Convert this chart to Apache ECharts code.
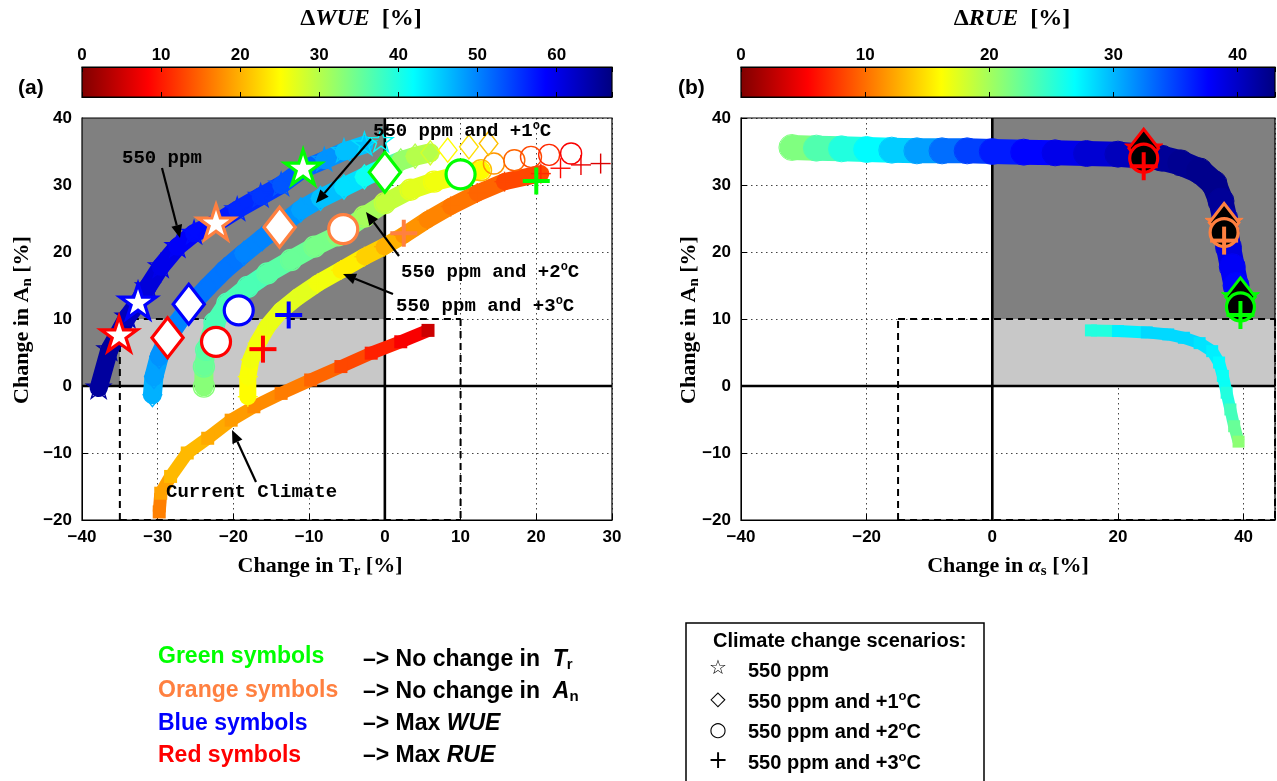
<!DOCTYPE html>
<html>
<head>
<meta charset="utf-8">
<script src="https://cdn.jsdelivr.net/npm/echarts@6/dist/echarts.min.js"></script>
<style>
html,body{margin:0;padding:0;background:#ffffff;}
#chart{width:1277px;height:781px;}
</style>
</head>
<body>
<div id="chart"></div>
<script>
// ===================== DATA =====================
// Panel (a): [change in Tr (%), change in An (%), ΔWUE (%)]
const curve550ppm = [
  [-37.8,-0.3,65],[-36.4,5.4,65],[-35.3,7.6,64],[-34.0,10.3,63],[-32.7,12.3,62],[-31.3,14.8,61],
  [-29.6,17.8,60],[-27.4,20.8,59],[-25.2,22.8,58],[-22.3,24.3,57],[-19.5,26.3,56],[-16.4,28.3,55],
  [-13.7,30.0,53],[-10.9,32.3,52],[-8.0,33.7,49],[-5.4,35.0,46],[-2.7,36.0,44],[-0.5,36.5,42]
];
const curve550ppm1C = [
  [-30.7,-1.3,47],[-30.5,1.4,48],[-29.8,4.4,49],[-28.7,7.1,50],[-27.4,9.4,50],[-25.6,12.1,51],
  [-23.4,14.8,51],[-21.2,17.3,51],[-18.6,19.8,50],[-16.2,22.0,50],[-13.7,24.0,49],[-11.1,26.3,48],
  [-8.5,28.0,46],[-5.4,29.7,44],[-2.7,31.2,41],[-0.3,32.5,36],[2.1,33.6,32],[4.0,34.3,30],
  [6.0,34.8,28],[8.3,35.2,25],[11.1,35.7,23],[13.7,36.2,21]
];
const curve550ppm2C = [
  [-23.9,-0.1,33],[-23.9,2.9,35],[-23.6,5.4,36],[-22.5,9.4,37],[-20.8,12.3,37],[-18.1,14.8,37],
  [-15.5,16.8,36],[-12.4,18.8,35],[-9.3,20.8,34],[-6.2,22.5,33],[-2.7,25.3,31],[0.0,27.3,29],
  [3.4,29.3,27],[6.5,30.5,26],[10.0,31.5,25],[12.7,32.2,21],[14.4,33.2,18],[17.1,33.7,15],
  [19.3,34.2,13],[21.7,34.5,11],[24.6,34.7,8]
];
const curve550ppm3C = [
  [-18.1,-1.6,25],[-18.1,1.4,25.5],[-17.7,3.9,26],[-16.8,6.4,26],[-15.5,8.9,26.5],[-13.7,11.3,27],
  [-11.5,13.3,27],[-8.9,15.3,26],[-5.8,17.3,24],[-2.7,19.3,22],[-0.1,20.8,20],[2.5,22.5,18],
  [5.6,24.8,17],[8.7,26.8,16],[12.2,28.8,15],[15.8,30.5,13],[20.6,31.7,11],[23.2,32.5,9],
  [25.9,33.0,7],[28.5,33.2,6]
];
const curveCurrentClimate = [
  [-29.8,-18.8,16.7],[-29.6,-16.0,19],[-28.3,-13.5,20.5],[-26.1,-10.0,20.5],[-23.4,-7.8,19.5],
  [-20.3,-5.1,18.5],[-17.3,-3.1,17.5],[-13.7,-1.1,16.5],[-9.8,0.9,15],[-5.8,2.9,13],
  [-1.8,4.9,10.5],[2.1,6.6,8],[5.7,8.3,5]
];
// Highlighted symbols (a); order: Max RUE, Max WUE, No change in An, No change in Tr
const starMarksA    = [[-35.1,7.5],[-32.6,12.4],[-22.3,24.2],[-10.8,32.4]];
const diamondMarksA = [[-28.7,7.2],[-25.9,12.2],[-13.9,23.7],[0.0,31.9]];
const circleMarksA  = [[-22.3,6.6],[-19.3,11.3],[-5.5,23.4],[10.0,31.6]];
const plusMarksA    = [[-16.1,5.5],[-12.7,10.6],[2.5,22.8],[20.0,30.6]];

// Panel (b): [change in αs (%), change in An (%), ΔRUE (%)]
const rueScenarios = [
  [-31.9,35.6,21.5],[-28,35.5,23.5],[-24,35.4,25.5],[-20,35.3,27],[-16,35.2,29],[-12,35.1,31],
  [-8,35.1,33],[-4,35.1,35],[0,35.0,36.5],[5,34.9,37.5],[10,34.8,38.5],[15,34.7,39.5],
  [20,34.6,40.5],[24,34.3,41.5],[27,34.0,42],[30,33.3,42.3],[33,32.1,42.5],[35.3,30.2,42.5],
  [36.4,27.6,42],[37,25,41],[37.2,23.1,40],[37.6,20.7,39],[38.2,17.8,38],[38.8,15,37.5],[39.5,12,37]
];
const rueCurrentClimate = [
  [15.7,8.3,25.5],[20,8.2,27.5],[24.6,8.0,28.5],[28,7.7,28.5],[30.5,7.2,28.5],[33,6.4,28],
  [35,5.2,27.5],[36.1,3.5,27],[36.7,1.5,26.5],[37.3,-1,25.5],[37.9,-3.5,24],[38.5,-6,22.5],[39.2,-8.3,21]
];
// Highlighted symbols (b); order: Max RUE, No change in An, No change in Tr
const starMarksB    = [[24.1,35.2],[36.9,24.1],[39.5,13.0]];
const diamondMarksB = [[24.1,35.5],[36.9,24.4],[39.5,13.3]];
const circleMarksB  = [[24.1,34.0],[36.9,22.9],[39.5,11.8]];
const plusMarksB    = [[24.1,32.8],[36.9,21.7],[39.5,10.6]];

// Reference regions / lines [x1,y1,x2,y2]
const shadeA  = [[-40,0,0,40],[-35,0,0,10]];
const shadeB  = [[0,0,45,40],[0,0,45,10]];
const dashedA = [[-35,-20,-35,10],[-35,10,10,10],[10,10,10,-20],[-35,-20,10,-20]];
const dashedB = [[-15,-20,-15,10],[-15,10,45,10],[45,10,45,-20],[-15,-20,45,-20]];
const solidA  = [[0,-20,0,40],[-40,0,30,0]];
const solidB  = [[0,-20,0,40],[-40,0,45,0]];

// Axes / colour scales
const xRangeA = [-40,30,10], xRangeB = [-40,45,20], yRange = [-20,40,10];
const wueScale = [[0,67]];
const rueScale = [[0,43]];

// ===================== STYLE =====================
const SANS = '"Liberation Sans", Arial, Helvetica, sans-serif';
const SERIF = '"Liberation Serif", "Times New Roman", serif';
const MONO = '"Liberation Mono", "Courier New", monospace';
const jetStops = ['#800000','#ff0000','#ff8000','#ffff00','#80ff80','#00ffff','#0080ff','#0000ff','#000080'];
const hlColorsA = ['#ff0000','#0000ff','#ff8040','#00ff00'];
const hlColorsB = ['#ff0000','#ff8040','#00ff00'];
const shadeColors = ['#808080','#c8c8c8'];

function fmt(v, step){
  const r = v/step;
  if (Math.abs(r - Math.round(r)) > 1e-6) return '';
  return v < 0 ? '\u2212' + Math.abs(v) : String(v);
}
function starPoints(cx, cy, R){
  const pts = [], r = R*0.382;
  for (let k=0;k<10;k++){
    const a = -Math.PI/2 + k*Math.PI/5, rr = (k%2===0)?R:r;
    pts.push([cx+rr*Math.cos(a), cy+rr*Math.sin(a)]);
  }
  return pts;
}
function markerShape(kind, cx, cy, size, fill, stroke, lw){
  switch(kind){
    case 'star': return [{type:'polygon', shape:{points:starPoints(cx,cy,size/2)}, style:{fill:fill, stroke:stroke, lineWidth:lw, lineJoin:'miter'}}];
    case 'diamond': { const w=size*0.78, h=size;
      return [{type:'polygon', shape:{points:[[cx,cy-h/2],[cx+w/2,cy],[cx,cy+h/2],[cx-w/2,cy]]}, style:{fill:fill, stroke:stroke, lineWidth:lw}}]; }
    case 'circle': return [{type:'circle', shape:{cx:cx, cy:cy, r:size/2}, style:{fill:fill, stroke:stroke, lineWidth:lw}}];
    case 'plus': return [
      {type:'line', shape:{x1:cx-size/2,y1:cy,x2:cx+size/2,y2:cy}, style:{stroke:stroke, lineWidth:lw}},
      {type:'line', shape:{x1:cx,y1:cy-size/2,x2:cx,y2:cy+size/2}, style:{stroke:stroke, lineWidth:lw}}];
    case 'square': return [{type:'rect', shape:{x:cx-size/2,y:cy-size/2,width:size,height:size}, style:{fill:fill}}];
  }
  return [];
}

const series = [];
function add(s){ series.push(s); return series.length-1; }

function rectSeries(gi, data, colors){
  return {type:'custom', xAxisIndex:gi, yAxisIndex:gi, z:1, silent:true, data:data, encode:{x:[0,2], y:[1,3]},
    renderItem:function(params, api){
      const a = api.coord([api.value(0), api.value(1)]), b = api.coord([api.value(2), api.value(3)]);
      return {type:'rect', shape:{x:Math.min(a[0],b[0]), y:Math.min(a[1],b[1]), width:Math.abs(b[0]-a[0]), height:Math.abs(b[1]-a[1])},
        style:{fill:colors[params.dataIndex]}};
    }};
}
function segSeries(gi, data, lw, dash, z){
  return {type:'custom', xAxisIndex:gi, yAxisIndex:gi, z:z, silent:true, data:data, encode:{x:[0,2], y:[1,3]},
    renderItem:function(params, api){
      const a = api.coord([api.value(0), api.value(1)]), b = api.coord([api.value(2), api.value(3)]);
      return {type:'line', shape:{x1:a[0],y1:a[1],x2:b[0],y2:b[1]}, style:{stroke:'#000', lineWidth:lw, lineDash:dash}};
    }};
}
function frameSeries(gi){
  return {type:'custom', xAxisIndex:gi, yAxisIndex:gi, z:20, silent:true, data:[[0]],
    renderItem:function(params){
      const c = params.coordSys;
      return {type:'rect', shape:{x:c.x, y:c.y, width:c.width, height:c.height}, style:{fill:'none', stroke:'#000', lineWidth:1.2}};
    }};
}
function bandSeries(gi, data, kind, opt){
  return {type:'custom', xAxisIndex:gi, yAxisIndex:gi, z:opt.z||5, silent:true,
    dimensions:['x','y','v'], encode:{x:0, y:1}, data:data,
    renderItem:function(params, api){
      const i = params.dataIndexInside, n = params.dataInsideLength;
      const x = api.value(0), y = api.value(1);
      const p = api.coord([x,y]);
      const color = api.visual('color');
      const ch = [];
      if (i < n-1 && x <= opt.bandUntil){
        const q = api.coord([api.value(0,i+1), api.value(1,i+1)]);
        ch.push({type:'line', shape:{x1:p[0],y1:p[1],x2:q[0],y2:q[1]}, style:{stroke:color, lineWidth:opt.width, lineCap:opt.cap||'round'}});
      }
      markerShape(kind, p[0], p[1], opt.size, kind==='square'?color:'none', color, opt.lw||1.4).forEach(e=>ch.push(e));
      return {type:'group', children:ch};
    }};
}
function highlightSeries(gi, data, kind, colors, opt){
  return {type:'custom', xAxisIndex:gi, yAxisIndex:gi, z:opt.z||10, silent:true, data:data, encode:{x:0, y:1},
    renderItem:function(params, api){
      const p = api.coord([api.value(0), api.value(1)]);
      const c = colors[params.dataIndex];
      return {type:'group', children:markerShape(kind, p[0], p[1], opt.size, opt.fill==='same'?c:opt.fill, c, opt.lw)};
    }};
}
function colorbarSeries(gi, data){
  return {type:'custom', xAxisIndex:gi, yAxisIndex:gi, z:2, silent:true, data:data, encode:{x:[0,1]},
    renderItem:function(params, api){
      const a = api.coord([api.value(0), 0]), b = api.coord([api.value(1), 1]);
      const stops = jetStops.map((c,i)=>({offset:i/(jetStops.length-1), color:c}));
      return {type:'rect', shape:{x:a[0], y:b[1], width:b[0]-a[0], height:a[1]-b[1]},
        style:{fill:new echarts.graphic.LinearGradient(0,0,1,0,stops)}};
    }};
}

// ---- panel (a)
add(rectSeries(0, shadeA, shadeColors));
add(segSeries(0, dashedA, 2, [7,5], 3));
add(segSeries(0, solidA, 2.6, null, 3));
const bandA = [];
bandA.push(add(bandSeries(0, curveCurrentClimate, 'square', {width:13, size:13, cap:'butt', bandUntil:99})));
bandA.push(add(bandSeries(0, curve550ppm3C, 'plus', {width:17, size:20, bandUntil:16, lw:1.4})));
bandA.push(add(bandSeries(0, curve550ppm2C, 'circle', {width:19, size:21, bandUntil:11, lw:1.4})));
bandA.push(add(bandSeries(0, curve550ppm1C, 'diamond', {width:19, size:24, bandUntil:5, lw:1.4})));
bandA.push(add(bandSeries(0, curve550ppm, 'star', {width:18, size:25, bandUntil:-4, lw:1.4})));
add(highlightSeries(0, starMarksA, 'star', hlColorsA, {size:38, fill:'#fff', lw:3.2}));
add(highlightSeries(0, diamondMarksA, 'diamond', hlColorsA, {size:40, fill:'#fff', lw:3.2}));
add(highlightSeries(0, circleMarksA, 'circle', hlColorsA, {size:29, fill:'#fff', lw:3.2}));
add(highlightSeries(0, plusMarksA, 'plus', hlColorsA, {size:27, fill:'none', lw:4}));
add(frameSeries(0));

// ---- panel (b)
add(rectSeries(1, shadeB, shadeColors));
add(segSeries(1, dashedB, 2, [7,5], 3));
add(segSeries(1, solidB, 2.6, null, 3));
const bandB = [];
bandB.push(add(bandSeries(1, rueCurrentClimate, 'square', {width:12, size:12, cap:'butt', bandUntil:99})));
bandB.push(add(bandSeries(1, rueScenarios, 'circle', {width:25, size:26, bandUntil:99, lw:1})));
add(highlightSeries(1, starMarksB, 'star', hlColorsB, {size:40, fill:'same', lw:1}));
add(highlightSeries(1, diamondMarksB, 'diamond', hlColorsB, {size:38, fill:'#000', lw:3}));
add(highlightSeries(1, circleMarksB, 'circle', hlColorsB, {size:28, fill:'#000', lw:3.2}));
add(highlightSeries(1, plusMarksB, 'plus', hlColorsB, {size:28, fill:'none', lw:4}));
add(frameSeries(1));

// ---- colour bars
add(colorbarSeries(2, wueScale));
add(frameSeries(2));
add(colorbarSeries(3, rueScale));
add(frameSeries(3));

// ===================== AXES =====================
function mainX(gi, r){
  return {gridIndex:gi, type:'value', min:r[0], max:r[1], interval:r[2],
    axisLine:{show:true, onZero:false, lineStyle:{color:'#000', width:1}},
    axisTick:{show:true, inside:true, length:6, lineStyle:{color:'#000'}},
    axisLabel:{color:'#000', fontWeight:'bold', fontSize:17, fontFamily:SANS, margin:9, formatter:v=>fmt(v, r[2])},
    splitLine:{show:true, lineStyle:{color:'#444', width:1, type:[1.5,3.5]}}};
}
function mainY(gi, r){
  return {gridIndex:gi, type:'value', min:r[0], max:r[1], interval:r[2],
    axisLine:{show:true, onZero:false, lineStyle:{color:'#000', width:1}},
    axisTick:{show:true, inside:true, length:6, lineStyle:{color:'#000'}},
    axisLabel:{color:'#000', fontWeight:'bold', fontSize:17, fontFamily:SANS, margin:10, formatter:v=>fmt(v, r[2])},
    splitLine:{show:true, lineStyle:{color:'#444', width:1, type:[1.5,3.5]}}};
}
function cbX(gi, max, pos, labels){
  return {gridIndex:gi, type:'value', position:pos, min:0, max:max, interval:10, z:10,
    axisLine:{show:true, onZero:false, lineStyle:{color:'#000', width:1}},
    axisTick:{show:true, inside:true, length:5, lineStyle:{color:'#000'}},
    axisLabel:{show:labels, color:'#000', fontWeight:'bold', fontSize:17, fontFamily:SANS, margin:3, formatter:v=>fmt(v,10)},
    splitLine:{show:false}};
}

// ===================== GRAPHICS (text) =====================
const g = [];
function txt(x, y, text, font, extra){
  return {type:'text', x:x, y:y, z:100, silent:true, style:Object.assign({text:text, font:font, fill:'#000', align:'left', verticalAlign:'middle'}, extra||{})};
}
function arrow(x1,y1,x2,y2){
  const a = Math.atan2(y2-y1, x2-x1), L = 13, W = 5.5;
  const bx = x2 - L*Math.cos(a), by = y2 - L*Math.sin(a);
  g.push({type:'line', z:100, silent:true, shape:{x1:x1,y1:y1,x2:bx,y2:by}, style:{stroke:'#000', lineWidth:2.2}});
  g.push({type:'polygon', z:100, silent:true, shape:{points:[[x2,y2],[bx+W*Math.sin(a), by-W*Math.cos(a)],[bx-W*Math.sin(a), by+W*Math.cos(a)]]}, style:{fill:'#000'}});
}
const MF = 'bold 19px ' + MONO;
const monoRich = {m:{font:MF, lineHeight:22}, o:{font:'bold 12px ' + MONO, lineHeight:12, verticalAlign:'top'}};
g.push(txt(122, 158, '550 ppm', MF));
g.push(txt(373, 131, '{m|550 ppm and +1}{o|o}{m|C}', null, {rich:monoRich}));
g.push(txt(401, 272, '{m|550 ppm and +2}{o|o}{m|C}', null, {rich:monoRich}));
g.push(txt(396, 306, '{m|550 ppm and +3}{o|o}{m|C}', null, {rich:monoRich}));
g.push(txt(166, 492, 'Current Climate', MF));
arrow(162,168,180,238);
arrow(371,139,316,203);
arrow(399,256,366,212);
arrow(393,294,343,274);
arrow(256,482,232,430);

// panel labels
g.push(txt(18, 88, '(a)', 'bold 21px ' + SANS));
g.push(txt(678, 88, '(b)', 'bold 21px ' + SANS));

// colour bar titles
const titleRich = {d:{font:'bold 24px ' + SERIF, lineHeight:28}, i:{font:'bold italic 24px ' + SERIF, lineHeight:28}};
g.push(txt(361, 19, '{d|\u0394}{i|WUE}{d|  [%]}', null, {rich:titleRich, align:'center'}));
g.push(txt(1012, 19, '{d|\u0394}{i|RUE}{d|  [%]}', null, {rich:titleRich, align:'center'}));

// axis names
const axRich = {a:{font:'bold 22px ' + SERIF, lineHeight:26}, i:{font:'bold italic 22px ' + SERIF, lineHeight:26},
                s:{font:'bold 15px ' + SERIF, lineHeight:7, verticalAlign:'bottom'}};
g.push(txt(320, 566, '{a|Change in }{a|T}{s|r}{a| [%]}', null, {rich:axRich, align:'center'}));
g.push(txt(1008, 566, '{a|Change in }{i|\u03b1}{s|s}{a| [%]}', null, {rich:axRich, align:'center'}));
g.push({type:'text', x:22, y:320, rotation:Math.PI/2, z:100, silent:true,
  style:{text:'{a|Change in }{a|A}{s|n}{a| [%]}', rich:axRich, align:'center', verticalAlign:'middle', fill:'#000'}});
g.push({type:'text', x:689, y:320, rotation:Math.PI/2, z:100, silent:true,
  style:{text:'{a|Change in }{a|A}{s|n}{a| [%]}', rich:axRich, align:'center', verticalAlign:'middle', fill:'#000'}});

// colour legend at bottom left
const LF = 'bold 23px ' + SANS;
g.push(txt(158, 657, 'Green symbols', LF, {fill:'#00ff00'}));
g.push(txt(158, 691, 'Orange symbols', LF, {fill:'#ff8040'}));
g.push(txt(158, 724, 'Blue symbols', LF, {fill:'#0000ff'}));
g.push(txt(158, 756, 'Red symbols', LF, {fill:'#ff0000'}));
const legRich = {a:{font:LF, lineHeight:24}, i:{font:'bold italic 23px ' + SANS, lineHeight:24},
                 s:{font:'bold 15px ' + SANS, lineHeight:6, verticalAlign:'bottom'}};
g.push(txt(363, 660, '{a|\u2013> No change in  }{i|T}{s|r}', null, {rich:legRich}));
g.push(txt(363, 692, '{a|\u2013> No change in  }{i|A}{s|n}', null, {rich:legRich}));
g.push(txt(363, 724, '{a|\u2013> Max }{i|WUE}', null, {rich:legRich}));
g.push(txt(363, 756, '{a|\u2013> Max }{i|RUE}', null, {rich:legRich}));

// scenario legend box
g.push({type:'rect', z:100, silent:true, shape:{x:686, y:623, width:298, height:180}, style:{fill:'none', stroke:'#000', lineWidth:1.5}});
const BF = 'bold 20px ' + SANS;
g.push(txt(713, 641, 'Climate change scenarios:', BF));
g.push(txt(718, 669, '\u2606', '20px "DejaVu Sans"', {align:'center'}));
g.push(txt(718, 700, '\u25c7', '20px "DejaVu Sans"', {align:'center'}));
g.push(txt(718, 731, '\u25cb', '20px "DejaVu Sans"', {align:'center'}));
g.push(txt(718, 762, '+', '24px "DejaVu Sans"', {align:'center'}));
const boxRich = {m:{font:BF, lineHeight:24}, o:{font:'bold 13px ' + SANS, lineHeight:12, verticalAlign:'top'}};
g.push(txt(748, 671, '550 ppm', BF));
g.push(txt(748, 702, '{m|550 ppm and +1}{o|o}{m|C}', null, {rich:boxRich}));
g.push(txt(748, 732, '{m|550 ppm and +2}{o|o}{m|C}', null, {rich:boxRich}));
g.push(txt(748, 763, '{m|550 ppm and +3}{o|o}{m|C}', null, {rich:boxRich}));

// ===================== OPTION =====================
const gridBase = {show:false, containLabel:false, outerBoundsMode:'none'};
const option = {
  animation:false,
  backgroundColor:'#ffffff',
  grid:[
    Object.assign({left:82, top:118, width:530, height:402}, gridBase),
    Object.assign({left:741, top:118, width:534, height:402}, gridBase),
    Object.assign({left:82, top:67, width:530, height:30}, gridBase),
    Object.assign({left:741, top:67, width:534, height:30}, gridBase)
  ],
  xAxis:[
    mainX(0, xRangeA), mainX(1, xRangeB),
    cbX(2, wueScale[0][1], 'top', true), cbX(3, rueScale[0][1], 'top', true),
    cbX(2, wueScale[0][1], 'bottom', false), cbX(3, rueScale[0][1], 'bottom', false)
  ],
  yAxis:[
    mainY(0, yRange), mainY(1, yRange),
    {gridIndex:2, type:'value', min:0, max:1, show:false},
    {gridIndex:3, type:'value', min:0, max:1, show:false}
  ],
  visualMap:[
    {type:'continuous', show:false, seriesIndex:bandA, dimension:2, min:wueScale[0][0], max:wueScale[0][1], inRange:{color:jetStops}},
    {type:'continuous', show:false, seriesIndex:bandB, dimension:2, min:rueScale[0][0], max:rueScale[0][1], inRange:{color:jetStops}}
  ],
  series:series,
  graphic:{elements:g}
};
const chart = echarts.init(document.getElementById('chart'), null, {renderer:'canvas', width:1277, height:781});
chart.setOption(option);
</script>
</body>
</html>
